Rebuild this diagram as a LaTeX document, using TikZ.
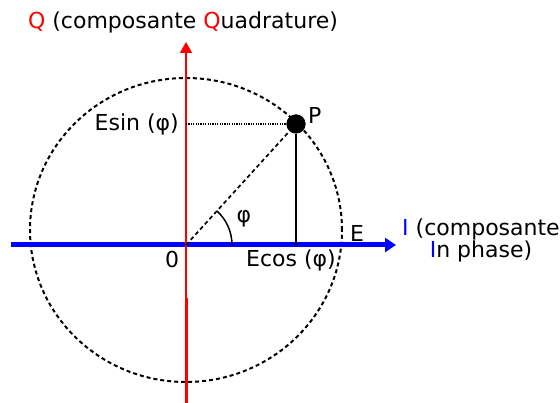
\documentclass[tikz,border=0pt]{standalone}
\usepackage{fontspec}
\setmainfont{DejaVu Sans}
\usetikzlibrary{arrows.meta, positioning, angles}
\definecolor{qred}{RGB}{255,0,0}
\definecolor{iblue}{RGB}{0,0,255}

\begin{document}
\begin{tikzpicture}[
  x=1pt, y=-1pt,
  lbl/.style={
    inner sep=0pt,
    font=\fontsize{22}{22}\selectfont
  },
  qaxis/.style={-{Triangle[length=11pt, width=12pt]}, qred, line width=1.5pt},
  iaxis/.style={-{Triangle[length=11pt, width=14pt]}, iblue, line width=5pt},
  rim/.style={dash pattern=on 4pt off 3pt, line width=2pt},
  radius line/.style={dash pattern=on 4pt off 3pt, line width=1.7pt},
  dot/.style={circle, fill=black, inner sep=0pt, minimum size=19pt}
]
\useasboundingbox (0,0) rectangle (560,403);
\coordinate (O) at (186,245);
\coordinate (C) at (186,230);
\coordinate (Qtip) at (186,42);
\coordinate (Qlow) at (186,298);
\coordinate (Qbot) at (186,403);
\coordinate (Ileft) at (11,245);
\coordinate (Itip) at (396,245);
\node[dot] (P) at (296,124) {};
\coordinate (Pfoot) at (P |- O);
\coordinate (Pside) at (O |- P);
% circle of radius E
\draw[rim] (C) ellipse [x radius=156pt, y radius=152pt];
% axes
\draw[iaxis] (Ileft) -- (Itip);
\draw[qaxis] (Qbot) -- (Qtip);
\draw[qred, line width=3pt] (Qlow) -- (Qbot);
% projections of P
\draw[radius line] (O) -- (P);
\draw[dash pattern=on 1.2pt off 1.2pt, line width=1.3pt] (Pside) -- (P);
\draw[line width=1.4pt] (P) -- (Pfoot);
\pic[draw, line width=1.5pt, angle radius=46pt] {angle=Itip--O--P};
\node[dot] at (P) {};
% labels
\node[lbl] (title) at (183,22)
  {\textcolor{qred}{Q} (composante \textcolor{qred}{Q}uadrature)};
\node[lbl, above right=-7pt and 5pt of P] (plabel) {P};
\node[lbl, left=7pt of Pside] (esin) {Esin (φ)};
\node[lbl] (ecos) at (291,260) {Ecos (φ)};
\node[lbl] (zero) at (172,259) {0};
\node[lbl] (phi) at (244,219) {φ};
\node[lbl] (elabel) at (357,233) {E};
\node[lbl, align=center] (ilabel) at (481,240)
  {\textcolor{iblue}{I} (composante\\\textcolor{iblue}{I}n phase)};
\end{tikzpicture}
\end{document}
